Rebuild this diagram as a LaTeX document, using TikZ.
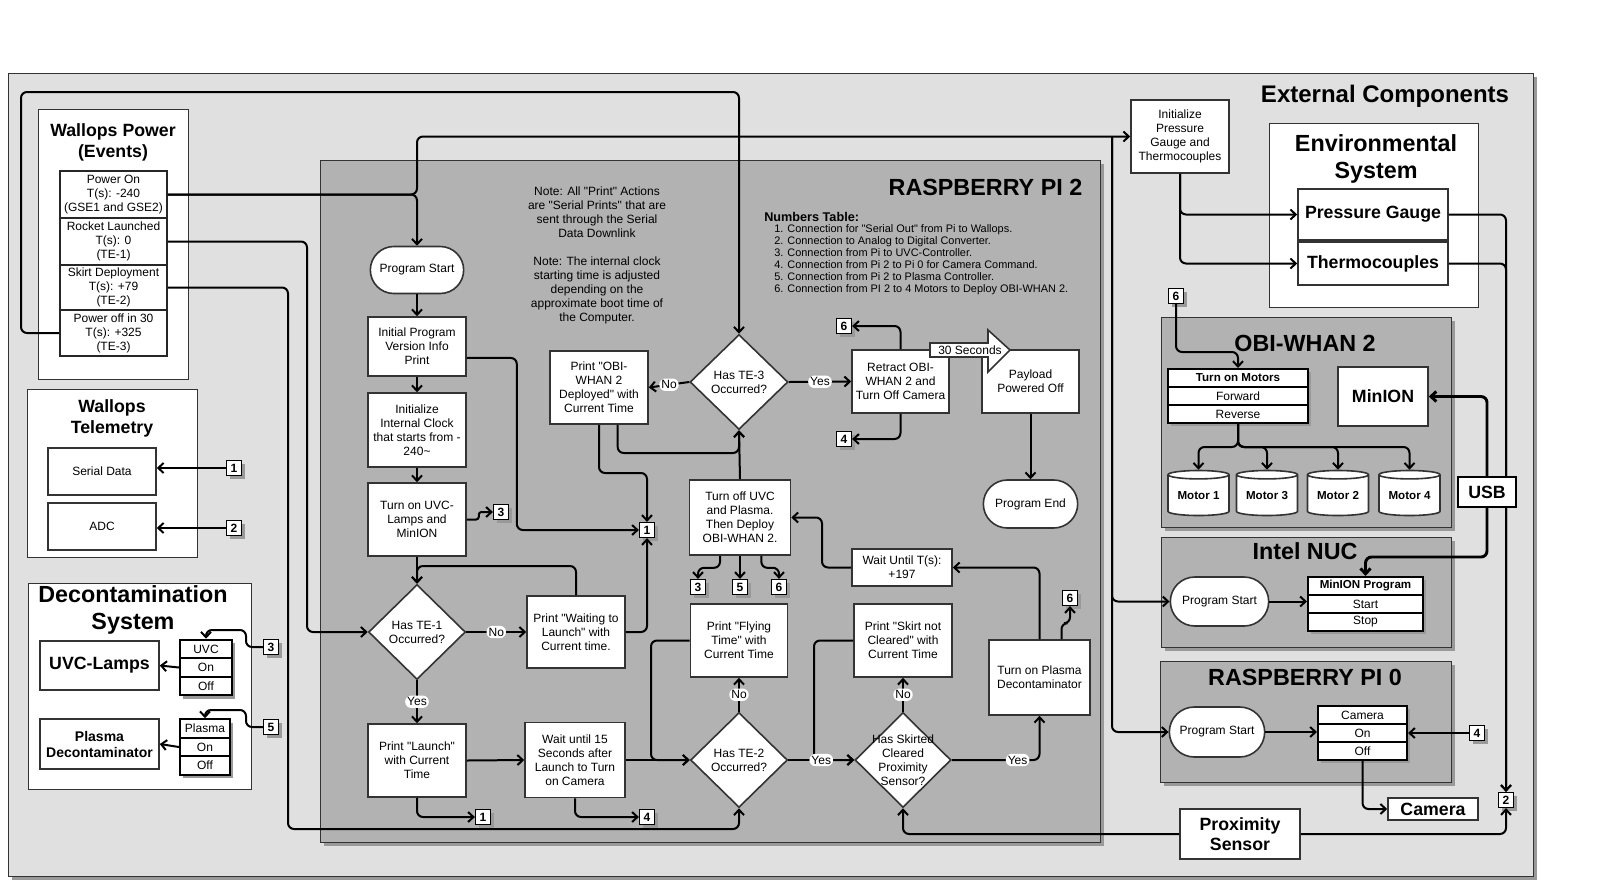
\documentclass[tikz,border=0pt]{standalone}
\usepackage{fontspec}
\setmainfont{Liberation Sans}[Ligatures=TeXOff]
\usetikzlibrary{arrows.meta,shapes.geometric,shapes.misc,shadows,positioning}
\begin{document}
\begin{tikzpicture}[x=0.75pt,y=-0.75pt,
    >={Straight Barb[length=4pt,width=7.5pt]},
    conn/.style={line width=1.5pt,rounded corners=4.5pt},
    sz/.style 2 args={minimum width={#1*0.75pt},minimum height={#2*0.75pt}},
    txt/.style={font=\fontsize{9}{10.5}\selectfont,align=center},
    flow/.style={txt,draw=black!80,line width=1.2pt,fill=white,inner sep=1pt},
    term/.style={flow,rounded rectangle},
    decision/.style={diamond,draw=black!80,line width=1.2pt,fill=white,inner sep=0pt},
    shade/.style={drop shadow={shadow xshift=2.5pt,shadow yshift=-2.5pt,fill=black!40,opacity=1}},
    tag/.style={draw=black,line width=1.2pt,fill=white,font=\bfseries\fontsize{9}{9}\selectfont,
        minimum size=11pt,inner sep=0pt,shade},
    cell/.style={txt,draw=black!85,line width=1.4pt,fill=white,inner sep=0pt},
    row/.style={cell,draw=black,line width=1.6pt,shade},
    yn/.style={txt,fill=white,inner sep=1.5pt},
    group/.style={draw=black!80,line width=0.75pt,fill=black!30,
        drop shadow={shadow xshift=3pt,shadow yshift=-3pt,fill=black!40,opacity=1}},
    panel/.style={draw=black!80,line width=0.75pt,fill=white},
    heading/.style={font=\bfseries\fontsize{17.5}{20.25}\selectfont,align=center},
    subhead/.style={font=\bfseries\fontsize{13.3}{15.75}\selectfont,align=center},
    part/.style={flow,font=\bfseries\fontsize{13.3}{15}\selectfont},
    motor/.style={cylinder,shape border rotate=90,aspect=0.2,draw=black!80,line width=1.2pt,
        fill=white,font=\bfseries\fontsize{8.7}{9}\selectfont,inner sep=0pt}
]
\useasboundingbox (0,0) rectangle (1612,893);

\draw[draw=black!80,line width=0.75pt,fill=black!12,
    drop shadow={shadow xshift=3pt,shadow yshift=-3pt,fill=black!40,opacity=1}]
    (8,73) rectangle (1533,876);
\node[heading,font=\bfseries\fontsize{18}{21}\selectfont] (ext) at (1385,96) {External Components};

% Wallops
\draw[panel] (38,109) rectangle (188,379);
\node[subhead] (wp) at (113,142) {Wallops Power\\(Events)};
\node[cell,sz={107}{47}] (pwon) at (113.5,194.5) {Power On\\T(s): -240\\(GSE1 and GSE2)};
\node[cell,sz={107}{47}] (rl) at (113.5,241.5) {Rocket Launched\\T(s): 0\\(TE-1)};
\node[cell,sz={107}{45}] (sd) at (113.5,287.5) {Skirt Deployment\\T(s): +79\\(TE-2)};
\node[cell,sz={107}{46}] (pwoff) at (113.5,333) {Power off in 30\\T(s): +325\\(TE-3)};

\draw[panel] (27,389) rectangle (197,557);
\node[subhead] (wt) at (112,418.5) {Wallops\\Telemetry};
\node[flow,sz={108}{47}] (serial) at (102,471.5) {Serial Data};
\node[flow,sz={108}{47}] (adc) at (102,526.5) {ADC};
\node[tag] (t1w) at (234,468) {1};
\node[tag] (t2w) at (234,528) {2};

% Decontamination
\draw[panel] (28,583) rectangle (251,789);
\node[heading] (dec) at (133,610) {Decontamination\\System};
\node[part,sz={119}{49}] (uvcl) at (99.5,665.5) {UVC-Lamps};
\node[row,sz={52}{18.5}] (uvch) at (206,649) {UVC};
\node[row,sz={52}{18.5}] (uvcon) at (206,667.5) {On};
\node[row,sz={52}{18.5}] (uvcoff) at (206,686) {Off};
\node[part,font=\bfseries\fontsize{10.5}{12}\selectfont,sz={119}{50}] (plasma) at (99.5,744) {Plasma\\Decontaminator};
\node[row,sz={50}{18.5}] (plh) at (205,728.5) {Plasma};
\node[row,sz={50}{18.5}] (plon) at (205,747) {On};
\node[row,sz={50}{18.5}] (ploff) at (205,765.5) {Off};
\node[tag] (t3d) at (271,647) {3};
\node[tag] (t5d) at (271,727) {5};

% Raspberry Pi 2
\draw[group] (320,160) rectangle (1100,842);
\node[heading,anchor=east] (pi2) at (1087,187) {RASPBERRY PI 2};
\node[txt] (note) at (597,255) {Note: All "Print" Actions\\are "Serial Prints" that are\\sent through the Serial\\Data Downlink\\[10.5pt]Note: The internal clock\\starting time is adjusted\\depending on the\\approximate boot time of\\the Computer.};
\node[anchor=west,inner sep=0pt,font=\bfseries\fontsize{9.5}{11}\selectfont] (numt) at (764,217) {Numbers Table:};
\node[anchor=north west,inner sep=0pt,align=left,font=\fontsize{8.2}{9}\selectfont] (numl) at (774,224) {1. Connection for "Serial Out" from Pi to Wallops.\\2. Connection to Analog to Digital Converter.\\3. Connection from Pi to UVC-Controller.\\4. Connection from Pi 2 to Pi 0 for Camera Command.\\5. Connection from Pi 2 to Plasma Controller.\\6. Connection from PI 2 to 4 Motors to Deploy OBI-WHAN 2.};

\node[term,sz={96}{47}] (ps) at (417,270) {Program Start};
\node[flow,sz={98}{59}] (ipv) at (417,346.5) {Initial Program\\Version Info\\Print};
\node[flow,sz={98}{74}] (clk) at (417,430) {Initialize\\Internal Clock\\that starts from -\\240\textasciitilde};
\node[flow,sz={98}{73}] (uvon) at (417,519.5) {Turn on UVC-\\Lamps and\\MinION};
\node[decision,sz={97}{95}] (te1) at (417,632) {};
\node[txt] (te1t) at (te1) {Has TE-1\\Occurred?};
\node[flow,sz={98}{72}] (pw) at (576,632) {Print "Waiting to\\Launch" with\\Current time.};
\node[flow,sz={98}{73}] (pl) at (417,760.5) {Print "Launch"\\with Current\\Time};
\node[flow,sz={100}{75}] (wu) at (575,760) {Wait until 15\\Seconds after\\Launch to Turn\\on Camera};
\node[decision,sz={97}{95}] (te2) at (739,760) {};
\node[txt] (te2t) at (te2) {Has TE-2\\Occurred?};
\node[flow,sz={97}{73}] (pft) at (739,640.5) {Print "Flying\\Time" with\\Current Time};
\node[decision,sz={96}{95}] (hs) at (903,760) {};
\node[txt] (hst) at (hs) {Has Skirted\\Cleared\\Proximity\\Sensor?};
\node[flow,sz={98}{73}] (psk) at (903,640.5) {Print "Skirt not\\Cleared" with\\Current Time};
\node[flow,sz={101}{75}] (tp) at (1039.5,677.5) {Turn on Plasma\\Decontaminator};
\node[flow,sz={100}{37}] (wait) at (902,567.5) {Wait Until T(s):\\+197};
\node[flow,sz={101}{75}] (tou) at (740,517.5) {Turn off UVC\\and Plasma.\\Then Deploy\\OBI-WHAN 2.};
\node[decision,sz={98}{95}] (te3) at (739,382) {};
\node[txt] (te3t) at (te3) {Has TE-3\\Occurred?};
\node[flow,sz={98}{73}] (po) at (599,387.5) {Print "OBI-\\WHAN 2\\Deployed" with\\Current Time};
\node[flow,sz={97}{63}] (rt) at (900.5,381.5) {Retract OBI-\\WHAN 2 and\\Turn Off Camera};
\node[flow,sz={97}{63}] (pay) at (1030.5,381.5) {Payload\\Powered Off};
\node[term,sz={97}{48}] (pe) at (1030.5,504) {Program End};

\node[tag] (t3a) at (501,512) {3};
\node[tag] (t1a) at (647,530) {1};
\node[tag] (t1b) at (483,817) {1};
\node[tag] (t4a) at (647,817) {4};
\node[tag] (t6a) at (844,326) {6};
\node[tag] (t4b) at (844,439) {4};
\node[tag] (t3b) at (698,587) {3};
\node[tag] (t5a) at (740,587) {5};
\node[tag] (t6b) at (779,587) {6};
\node[tag] (t6c) at (1070,598) {6};

% right side
\node[flow,sz={98}{73}] (initp) at (1180,136.5) {Initialize\\Pressure\\Gauge and\\Thermocouples};
\draw[panel] (1269,123) rectangle (1478,307);
\node[heading] (env) at (1376,159) {Environmental\\System};
\node[part,sz={150}{51}] (pg) at (1373,214.5) {Pressure Gauge};
\node[part,sz={150}{43}] (tc) at (1373,263.5) {Thermocouples};

\draw[group] (1161,317) rectangle (1451,527);
\node[heading] (obi) at (1305,343) {OBI-WHAN 2};
\node[tag] (t6o) at (1176,296) {6};
\node[row,font=\bfseries\fontsize{8.7}{9}\selectfont,sz={140}{18}] (tom) at (1238,378) {Turn on Motors};
\node[row,sz={140}{18}] (fwd) at (1238,396) {Forward};
\node[row,sz={140}{18}] (rev) at (1238,414) {Reverse};
\node[part,sz={90}{59}] (minion) at (1383,396.5) {MinION};
\node[motor,sz={61}{45}] (m1) at (1198.5,495.5) {Motor 1};
\node[motor,sz={61}{45}] (m3) at (1267,495.5) {Motor 3};
\node[motor,sz={61}{45}] (m2) at (1338,495.5) {Motor 2};
\node[motor,sz={61}{45}] (m4) at (1409.5,495.5) {Motor 4};

\draw[group] (1161,537) rectangle (1451,647);
\node[heading] (nuc) at (1305,551) {Intel NUC};
\node[term,sz={101}{49}] (nucps) at (1219.5,601.5) {Program Start};
\node[row,font=\bfseries\fontsize{8.7}{9}\selectfont,sz={115}{18}] (mph) at (1365.5,586) {MinION Program};
\node[row,sz={115}{18}] (mps) at (1365.5,604) {Start};
\node[row,sz={115}{18}] (mpt) at (1365.5,622) {Stop};

\draw[group] (1160,661) rectangle (1451,782);
\node[heading] (pi0) at (1305,677) {RASPBERRY PI 0};
\node[term,sz={98}{50}] (pi0ps) at (1217,732) {Program Start};
\node[row,sz={89}{18}] (camh) at (1362.5,715) {Camera};
\node[row,sz={89}{18}] (camon) at (1362.5,733) {On};
\node[row,sz={89}{18}] (camoff) at (1362.5,751) {Off};
\node[tag] (t4p) at (1477,733) {4};
\node[part,sz={90}{22}] (camera) at (1433,809) {Camera};
\node[part,sz={120}{50}] (prox) at (1240,834) {Proximity\\Sensor};
\node[tag] (t2e) at (1506,800) {2};
\coordinate (jn) at (1112,136.5);

% connectors
\draw[conn,->] (t1w.west) -- (t1w.west -| serial.east);
\draw[conn,->] (t2w.west) -- (t2w.west -| adc.east);
\draw[conn,->] (uvcon.west) -- (uvcl.east);
\draw[conn,->] (plon.west) -- (plasma.east);
\draw[conn,->] (t3d.west) -- (246,647) -- (246,630) -| (uvch.north);
\draw[conn,->] (t5d.west) -- (246,727) -- (246,710) -| (plh.north);

\draw[conn,->] (pwoff.west) -- (21,333) -- (21,92) -| (te3.north);
\draw[conn,->] (pwon.east) -| (ps.north);
\draw[conn,->] (pwon.east) -- (417,194.5) |- (initp.west);
\draw[conn,->] (rl.east) -- (307,241.5) |- (te1.west);
\draw[conn,->] (sd.east) -- (288,287.5) -- (288,829) -| (te2.south);

\draw[conn,->] (ps.south) -- (ipv.north);
\draw[conn,->] (ipv.south) -- (clk.north);
\draw[conn,->] (clk.south) -- (uvon.north);
\draw[conn,->] (uvon.south) -- (te1.north);
\draw[conn,rounded corners=2pt,->] (uvon.east) -- ++(12,0) |- (t3a.west);
\draw[conn,->] ([yshift=-8.6pt]ipv.east) -- ++(50,0) |- (t1a.west);
\draw[conn,->] (te1.east) -- node[yn] (te1no) {No} (pw.west);
\draw[conn,->] (pw.north) -- (576,566) -- (417,566) -- (te1.north);
\draw[conn,->] (pw.east) -| (t1a.south);
\draw[conn,->] (po.south) -- (599,473) -| (t1a.north);
\draw[conn,->] ([xshift=14pt]po.south) |- (739,453) -- (te3.south);
\draw[conn,->] (te3.west) -- node[yn] (te3no) {No} (po.east);
\draw[conn,->] (te3.east) -- node[yn] (te3yes) {Yes} (rt.west);
\draw[conn,->] (rt.north) |- (t6a.east);
\draw[conn,->] (rt.south) |- (t4b.east);
\draw[conn,->] (pay.south) -- (pe.north);
\draw[conn,->] (tou.north) -- (te3.south);
\draw[conn,->] ([xshift=-15pt]tou.south) -- ++(0,12) -| (t3b.north);
\draw[conn,->] (tou.south) -- (t5a.north);
\draw[conn,->] ([xshift=16pt]tou.south) -- ++(0,12) -| (t6b.north);
\draw[conn,->] (te1.south) -- node[yn] (te1yes) {Yes} (pl.north);
\draw[conn,->] (pl.east) -- (wu.west);
\draw[conn,->] (pl.south) |- (t1b.west);
\draw[conn,->] (wu.south) |- (t4a.west);
\draw[conn,->] (wu.east) -- (te2.west);
\draw[conn,->] (pft.west) -- (651,640.5) |- (te2.west);
\draw[conn,->] (psk.west) -- (814,640.5) |- (hs.west);
\draw[conn,->] (te2.north) -- node[yn] (te2no) {No} (pft.south);
\draw[conn,->] (te2.east) -- node[yn] (te2yes) {Yes} (hs.west);
\draw[conn,->] (hs.north) -- node[yn] (hsno) {No} (psk.south);
\draw[conn,->] (hs.east) -- node[yn,pos=0.75] (hsyes) {Yes} (hs.east -| tp.south) -- (tp.south);
\draw[conn,->] (prox.west) -| (hs.south);
\draw[conn,->] (tp.north) |- (wait.east);
\draw[conn,->] ([xshift=16.5pt]tp.north) -- ++(0,-16) -| (t6c.south);
\draw[conn,->] (wait.west) -- (822,567.5) |- (tou.east);

\draw[fill=white,draw=black!80,line width=1.2pt] (930,343) -- (988,343) -- (988,330)
    -- (1010,350) -- (988,372) -- (988,357) -- (930,357) -- cycle;
\node[txt,inner sep=0pt] (sec) at (970,350) {30 Seconds};

\draw[conn,->] (initp.south) |- (pg.west);
\draw[conn,->] (initp.south) |- (tc.west);
\draw[conn,->] (pg.east) -| (t2e.north);
\draw[conn,->] (tc.east) -| (t2e.north);
\draw[conn,->] (prox.east) -| (t2e.south);
\draw[conn,->] (jn) |- (nucps.west);
\draw[conn,->] (jn) |- (pi0ps.west);

\draw[conn,->] (t6o.south) -- (1176,352) -| (tom.north);
\draw[conn,->] (rev.south) -- (1238,447) -| (m1.north);
\draw[conn,->] (rev.south) -- (1238,447) -| (m3.north);
\draw[conn,->] (rev.south) -- (1238,447) -| (m2.north);
\draw[conn,->] (rev.south) -- (1238,447) -| (m4.north);
\draw[conn,line width=2.2pt,<->] (minion.east) -- (1487,396.5) -- (1487,557) -| (mph.north);
\node[part,draw=black,sz={58}{30}] (usb) at (1487,492) {USB};
\draw[conn,->] (nucps.east) -- (nucps.east -| mps.west);
\draw[conn,->] (pi0ps.east) -- (pi0ps.east -| camon.west);
\draw[conn,->] (t4p.west) -- (camon.east);
\draw[conn,->] (camoff.south) |- (camera.west);
\end{tikzpicture}
\end{document}
